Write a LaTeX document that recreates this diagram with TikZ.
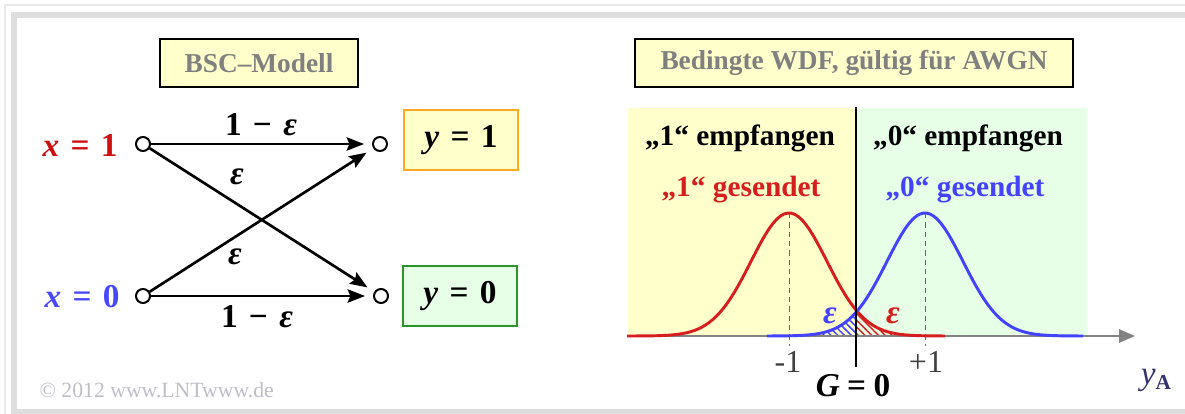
\documentclass[tikz,border=0pt]{standalone}
\usepackage{fontspec}
\setmainfont{Liberation Serif}
\usetikzlibrary{arrows.meta,patterns.meta}

\definecolor{lntred}{RGB}{208,16,16}
\definecolor{lntblue}{RGB}{72,72,255}
\definecolor{curvered}{RGB}{214,30,30}
\definecolor{curveblue}{RGB}{66,66,255}
\definecolor{boxyellow}{RGB}{255,255,204}
\definecolor{boxgreen}{RGB}{230,255,230}
\definecolor{boxorange}{RGB}{255,168,36}
\definecolor{boxframegreen}{RGB}{40,150,40}
\definecolor{titlegray}{RGB}{128,128,128}
\definecolor{axisgray}{RGB}{130,130,130}
\definecolor{framegray}{RGB}{222,222,222}
\definecolor{framelight}{RGB}{232,232,232}
\definecolor{copygray}{RGB}{190,190,198}

\newcommand{\gp}{\hspace{0.34em}}
\newcommand{\bi}[1]{{\bfseries\itshape #1}}

\tikzset{every picture/.style={line width=0.75pt}}
\tikzset{
  titlebox/.style={draw=black, line width=1.5pt, fill=boxyellow, minimum height=36pt,
    font=\fontsize{20.5}{24}\selectfont\bfseries, text=titlegray},
  outbox/.style={line width=1.5pt, minimum width=86pt, minimum height=45pt,
    font=\fontsize{25}{29}\selectfont\bfseries},
  port/.style={circle, draw=black, line width=1.5pt, fill=white, inner sep=0pt, minimum size=10.5pt},
  chan/.style={line width=2pt, -{Stealth[length=13pt,width=10pt,inset=2pt]}, shorten >=6pt},
  lbl/.style={font=\fontsize{25}{29}\selectfont\bfseries, inner sep=0.75pt},
  txt/.style={font=\fontsize{22}{26}\selectfont\bfseries, inner sep=0.75pt},
  num/.style={font=\fontsize{24}{28}\selectfont, text=black!75, inner sep=0.75pt},
  gauss/.style={line width=2.2pt, samples=90, variable=\t},
  hatch/.style={pattern={Lines[angle=-45,distance=3.6pt,line width=1.1pt]}},
  tick/.style={draw=black!60, line width=0.75pt, dash pattern=on 4pt off 3pt},
}

\begin{document}
\begin{tikzpicture}[x=0.75pt,y=0.75pt,yscale=-1,xscale=1]
\useasboundingbox (0,0) rectangle (1185,414);

% frame
\draw [framelight, line width=1.5pt] (1185,5) -- (5,5) -- (5,414);
\draw [framegray, line width=4.5pt] (1185,14.5) -- (14,14.5) -- (14,411.5) -- (1185,411.5);

% BSC model
\node [titlebox, minimum width=148.5pt] (bsc) at (259,63) {BSC–Modell};

\node [port] (x1) at (143,144) {};
\node [port] (y1) at (380,144) {};
\node [port] (x0) at (143,296) {};
\node [port] (y0) at (381,296) {};

\node [lbl, anchor=east, text=lntred] (lx1) at (119,145) {\bi{x}\gp=\gp1};
\node [lbl, anchor=east, text=lntblue] (lx0) at (121,297) {\bi{x}\gp=\gp0};

\node [outbox, draw=boxorange, fill=boxyellow] (out1) at (461,140) {\bi{y}\gp=\gp1};
\node [outbox, draw=boxframegreen, fill=boxgreen] (out0) at (460,296) {\bi{y}\gp=\gp0};

\draw [chan] (x1) -- (y1);
\draw [chan] (x0) -- (y0);
\draw [chan] (x1) -- (y0);
\draw [chan] (x0) -- (y1);

\node [lbl] (p11) at (261,125) {1\gp−\gp\bi{ε}};
\node [lbl] (p00) at (257,317) {1\gp−\gp\bi{ε}};
\node [lbl] (p10) at (237,177) {\bi{ε}};
\node [lbl] (p01) at (235,257) {\bi{ε}};

\node [anchor=west, text=copygray, font=\fontsize{16.3}{19}\selectfont, inner sep=0.75pt] (copy) at (38,390) {© 2012 www.LNTwww.de};

% conditional pdf
\node [titlebox, minimum width=328.5pt] (wdf) at (854,63) {Bedingte WDF, gültig für AWGN};

\fill [boxyellow] (628,108) rectangle (856,336);
\fill [boxgreen] (856,108) rectangle (1087,336);

\fill [hatch, pattern color=curveblue]
  plot [gauss, domain=-3.6:-1.8] ({925+38*\t},{336-123*exp(-\t*\t/2)}) -- (856,336) -- cycle;
\fill [hatch, pattern color=curvered]
  plot [gauss, domain=1.76:3.6] ({789+38*\t},{336-123*exp(-\t*\t/2)}) -- (856,336) -- cycle;

\coordinate (ax0) at (627,336);
\coordinate (ax1) at (1135,336);
\draw [axisgray, line width=1.5pt, -{Triangle[length=12pt,width=10pt]}] (ax0) -- (ax1);

\draw [tick] (789,213) -- (789,346);
\draw [tick] (925,213) -- (925,346);

\draw [curvered, gauss, domain=-4.26:4.1] plot ({789+38*\t},{336-123*exp(-\t*\t/2)});
\draw [curveblue, gauss, domain=-4.16:4.16] plot ({925+38*\t},{336-123*exp(-\t*\t/2)});

\draw [line width=2.2pt] (856,107) -- (856,367);

\node [txt] (rx1) at (740,138) {„1“ empfangen};
\node [txt] (rx0) at (968,138) {„0“ empfangen};
\node [txt, text=curvered] (tx1) at (741,190) {„1“ gesendet};
\node [txt, text=curveblue] (tx0) at (965,190) {„0“ gesendet};
\node [lbl, text=curveblue] (e0) at (830,316) {\bi{ε}};
\node [lbl, text=curvered] (e1) at (893,316) {\bi{ε}};

\node [num] (m1) at (788,362) {-1};
\node [num] (p1) at (926,362) {+1};
\node [lbl] (g0) at (853,386) {\bi{G}\hspace{0.22em}=\hspace{0.22em}0};
\node [inner sep=0.75pt, text=black!70!blue!80, font=\fontsize{25}{29}\selectfont] (ya) at (1156,380)
  {\itshape y\raisebox{-0.35ex}{\fontsize{16}{18}\selectfont\bfseries\upshape A}};
\end{tikzpicture}
\end{document}
